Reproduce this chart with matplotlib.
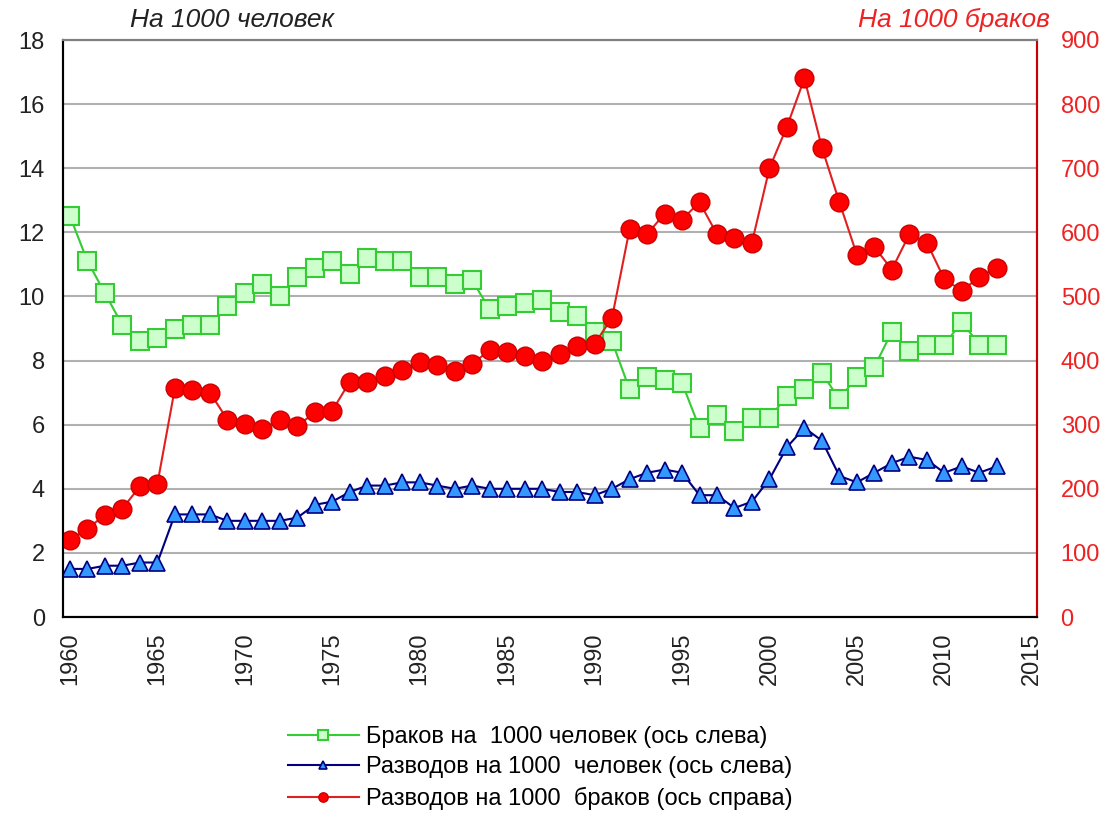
import matplotlib
matplotlib.use('Agg')
import matplotlib.pyplot as plt

plt.rcParams['font.family'] = ['Liberation Sans', 'DejaVu Sans']

years = list(range(1960, 2014))

# браков на 1000 человек (левая ось)
marriages = [12.5, 11.1, 10.1, 9.1, 8.6, 8.7, 9.0, 9.1, 9.1, 9.7,
             10.1, 10.4, 10.0, 10.6, 10.9, 11.1, 10.7, 11.2, 11.1, 11.1,
             10.6, 10.6, 10.4, 10.5, 9.6, 9.7, 9.8, 9.9, 9.5, 9.4,
             8.9, 8.6, 7.1, 7.5, 7.4, 7.3, 5.9, 6.3, 5.8, 6.2,
             6.2, 6.9, 7.1, 7.6, 6.8, 7.5, 7.8, 8.9, 8.3, 8.5,
             8.5, 9.2, 8.5, 8.5]

# разводов на 1000 человек (левая ось)
divorces = [1.5, 1.5, 1.6, 1.6, 1.7, 1.7, 3.2, 3.2, 3.2, 3.0,
            3.0, 3.0, 3.0, 3.1, 3.5, 3.6, 3.9, 4.1, 4.1, 4.2,
            4.2, 4.1, 4.0, 4.1, 4.0, 4.0, 4.0, 4.0, 3.9, 3.9,
            3.8, 4.0, 4.3, 4.5, 4.6, 4.5, 3.8, 3.8, 3.4, 3.6,
            4.3, 5.3, 5.9, 5.5, 4.4, 4.2, 4.5, 4.8, 5.0, 4.9,
            4.5, 4.7, 4.5, 4.7]

# разводов на 1000 браков (правая ось)
div_per_marr = [120, 138, 159, 169, 204, 208, 357, 354, 350, 308,
                301, 293, 308, 298, 319, 322, 367, 367, 376, 385,
                397, 393, 383, 395, 416, 414, 407, 400, 411, 422,
                426, 467, 605, 597, 629, 620, 647, 597, 591, 584,
                700, 765, 840, 732, 647, 565, 577, 542, 597, 584,
                527, 509, 530, 545]

left_ticks = list(range(0, 19, 2))
right_ticks = list(range(0, 901, 100))
x_ticks = list(range(1960, 2016, 5))

fig = plt.figure(figsize=(11.09, 8.13), dpi=100)
ax = fig.add_axes([63/1109, 1 - 617/813, (1037 - 63)/1109, (617 - 40)/813])
ax2 = ax.twinx()

green_line = '#33cc33'
navy = '#000080'
red = '#ff0000'

l1, = ax.plot(years, marriages, color=green_line, lw=1.5, marker='s', ms=13.5,
              mfc='#ccffcc', mec=green_line, mew=1.5,
              label='Браков на  1000 человек (ось слева)')
l2, = ax.plot(years, divorces, color=navy, lw=1.5, marker='^', ms=11,
              mfc='#3399ff', mec=navy, mew=1.2,
              label='Разводов на 1000  человек (ось слева)')
l3, = ax2.plot(years, div_per_marr, color='#e02020', lw=1.5, marker='o', ms=13.5,
               mfc=red, mec='#cc0000', mew=1,
               label='Разводов на 1000  браков (ось справа)')

ax.set_xlim(1959.6, 2015.3)
ax.set_ylim(0, 18)
ax2.set_ylim(0, 900)
ax.set_yticks(left_ticks)
ax2.set_yticks(right_ticks)
ax.set_xticks(x_ticks)
ax.set_xticklabels([str(x) for x in x_ticks], rotation=90)

ax.grid(axis='y', color='#b0b0b0', lw=1.5)
ax.set_axisbelow(True)

ax.tick_params(axis='y', length=0, pad=13, labelsize=17, colors='#222222')
ax.tick_params(axis='x', length=0, pad=11, labelsize=17, colors='#222222')
ax2.tick_params(axis='y', length=0, pad=17, labelsize=17, colors='#ee2222')

for a in (ax, ax2):
    a.spines['left'].set_color('black')
    a.spines['bottom'].set_color('black')
    a.spines['top'].set_color('#808080')
    a.spines['right'].set_color('#cc0000')
    for s in a.spines.values():
        s.set_linewidth(1.5)

fig.text(130/1109, 1 - 20/813, 'На 1000 человек', style='italic', fontsize=19,
         ha='left', va='center', color='#222222')
fig.text(1050/1109, 1 - 20/813, 'На 1000 браков', style='italic', fontsize=19,
         ha='right', va='center', color='#ee2222')

fig.legend(handles=[l1, l2, l3], loc='center', bbox_to_anchor=(540/1109, 1 - 768/813),
           frameon=False, fontsize=17, markerscale=0.5, handlelength=3.0,
           handletextpad=0.3, labelspacing=0.35, borderpad=0)

fig.savefig('out.png', dpi=100)
